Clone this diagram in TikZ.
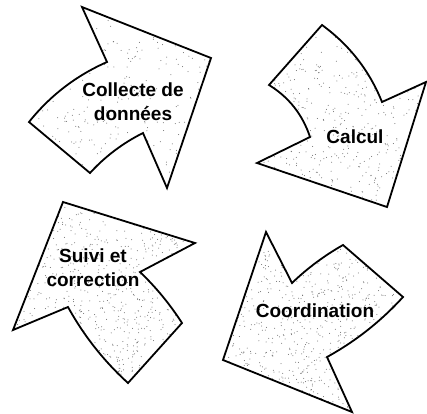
\documentclass[tikz,border=0pt]{standalone}
\usepackage{fontspec}
\setmainfont{Liberation Sans}
\usepackage{xcolor}
\usetikzlibrary{calc}
\definecolor{speckgray}{RGB}{105,105,105}

% outlines of the four arrows (picture units: 1pt, y downwards)
\newcommand{\shapeCollecte}{(82,7) -- (211,58) -- (167,188) -- (143,133) .. controls (123,143) and (105,156.5) .. (90,173) -- (29,122) .. controls (50,95.7) and (76,75.7) .. (107,62) -- cycle}
\newcommand{\shapeCalcul}{(322,25) .. controls (349.4,45) and (369.4,70.6) .. (382,102) -- (426,82) -- (387,207) -- (257,163) -- (310,137) .. controls (302.6,114.7) and (289,97.3) .. (269,85) -- cycle}
\newcommand{\shapeSuivi}{(63,202) -- (195,243) -- (140,272) .. controls (156,287.3) and (170,304.3) .. (182,323) -- (128,383) .. controls (103.8,361) and (83.8,335.6) .. (68,307) -- (13,330) -- cycle}
\newcommand{\shapeCoord}{(223,360) -- (266,232) -- (292,283) .. controls (307.4,268.2) and (324.4,255.6) .. (343,245) -- (403,297) .. controls (381,321.2) and (355.6,341.2) .. (327,357) -- (352,412) -- cycle}

\begin{document}
\begin{tikzpicture}[
    x=1pt, y=-1pt,
    arrowshape/.style={draw=black, line width=1.8pt, line join=miter},
    speck/.style={fill=speckgray},
    txt/.style={font=\fontsize{19}{24}\selectfont\bfseries, align=center, inner sep=0pt}
]
\useasboundingbox (0,0) rectangle (427,413);
\pgfmathsetseed{11}

% Arrow 1: Collecte de donnees
\fill[white] \shapeCollecte;
\begin{scope}
  \clip \shapeCollecte;
  \foreach \k in {1,...,380} \fill[speck] ({120+rand*95},{97+rand*92}) circle (0.5);
\end{scope}
\draw[arrowshape] \shapeCollecte;

% Arrow 2: Calcul
\fill[white] \shapeCalcul;
\begin{scope}
  \clip \shapeCalcul;
  \foreach \k in {1,...,600} \fill[speck] ({341+rand*86},{116+rand*92}) circle (0.5);
\end{scope}
\draw[arrowshape] \shapeCalcul;

% Arrow 3: Suivi et correction
\fill[white] \shapeSuivi;
\begin{scope}
  \clip \shapeSuivi;
  \foreach \k in {1,...,950} \fill[speck] ({104+rand*92},{292+rand*92}) circle (0.5);
\end{scope}
\draw[arrowshape] \shapeSuivi;

% Arrow 4: Coordination
\fill[white] \shapeCoord;
\begin{scope}
  \clip \shapeCoord;
  \foreach \k in {1,...,1000} \fill[speck] ({313+rand*92},{322+rand*92}) circle (0.5);
\end{scope}
\draw[arrowshape] \shapeCoord;

% Labels
\node[txt] (collecte) at (133,102) {Collecte de\\donn\'ees};
\node[txt] (calcul) at (355,137) {Calcul};
\node[txt] (suivi) at (93,268) {Suivi et\\correction};
\node[txt] (coord) at (315,311) {Coordination};

\end{tikzpicture}
\end{document}
